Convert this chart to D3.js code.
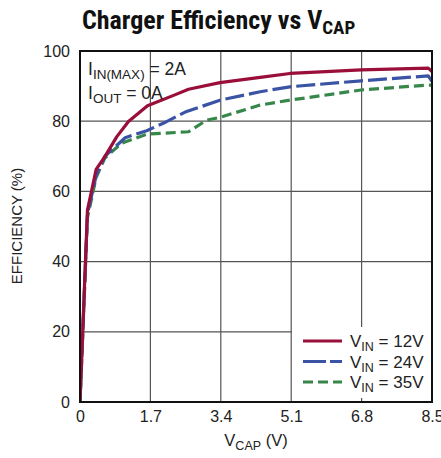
<!DOCTYPE html>
<html><head><meta charset="utf-8">
<script src="https://cdn.jsdelivr.net/npm/d3@7"></script>
<style>
body{margin:0;background:#fff;}
text{font-family:"Liberation Sans",Arial,sans-serif;}
text.title{font-family:"Roboto Condensed","Liberation Sans Narrow","Arial Narrow","Liberation Sans",sans-serif;}
</style></head><body>
<svg id="c" width="441" height="458"></svg>
<script>
const xTicks = [0, 1.7, 3.4, 5.1, 6.8, 8.5];
const xTickLabels = ["0", "1.7", "3.4", "5.1", "6.8", "8.5"];
const yTicks = [0, 20, 40, 60, 80, 100];
const seriesNames = ["12V", "24V", "35V"];
const vcap12 = [0, 0.18, 0.39, 0.6, 0.89, 1.17, 1.63, 2.29, 2.62, 3.38, 4.35, 5.07, 6.79, 8.41, 8.5];
const eff12  = [0, 54.7, 66.3, 69.9, 75.6, 79.9, 84.4, 87.5, 89.1, 91.0, 92.5, 93.6, 94.6, 95.1, 94.1];
const vcap24 = [0, 0.18, 0.39, 0.6, 1.09, 1.61, 2.01, 2.54, 3.38, 4.35, 5.07, 6.79, 8.41, 8.5];
const eff24  = [0, 53.5, 64.5, 70.0, 75.3, 77.3, 79.4, 82.6, 86.0, 88.4, 89.8, 91.5, 92.9, 91.3];
const vcap35 = [0, 0.18, 0.39, 0.6, 1.0, 1.61, 2.62, 3.06, 3.38, 4.35, 5.07, 6.79, 8.41, 8.5];
const eff35  = [0, 52.5, 64.0, 69.5, 73.7, 76.3, 77.0, 80.3, 81.1, 84.6, 86.0, 88.9, 90.3, 90.3];

const svg = d3.select("#c");
const L = 80, R = 432, T = 51, B = 402;
const x = d3.scaleLinear().domain([0, 8.5]).range([L, R]);
const y = d3.scaleLinear().domain([0, 100]).range([B, T]);

// grid
const g = svg.append("g");
g.selectAll(".vg").data(xTicks.slice(1, -1)).join("line")
  .attr("x1", d => x(d)).attr("x2", d => x(d)).attr("y1", T).attr("y2", B)
  .attr("stroke", "#555").attr("stroke-width", 1.2);
g.selectAll(".hg").data(yTicks.slice(1, -1)).join("line")
  .attr("y1", d => y(d)).attr("y2", d => y(d)).attr("x1", L).attr("x2", R)
  .attr("stroke", "#555").attr("stroke-width", 1.2);

// axes labels via d3 axes
const xAxis = d3.axisBottom(x).tickValues(xTicks).tickFormat((d, i) => xTickLabels[i]).tickSize(0).tickPadding(9);
const xa = svg.append("g").attr("transform", `translate(0,${B})`).call(xAxis);
xa.select(".domain").remove();
xa.selectAll("text").attr("font-size", 16).attr("fill", "#222")
  .style("font-family", '"Liberation Sans",Arial,sans-serif');
const yAxis = d3.axisLeft(y).tickValues(yTicks).tickFormat(d3.format("d")).tickSize(0).tickPadding(10);
const ya = svg.append("g").attr("transform", `translate(${L},0)`).call(yAxis);
ya.select(".domain").remove();
ya.selectAll("text").attr("font-size", 16).attr("fill", "#222")
  .style("font-family", '"Liberation Sans",Arial,sans-serif');

// curves
const line = d3.line().x(d => x(d[0])).y(d => y(d[1]));
const s12 = vcap12.map((v, i) => [v, eff12[i]]);
const s24 = vcap24.map((v, i) => [v, eff24[i]]);
const s35 = vcap35.map((v, i) => [v, eff35[i]]);
const colors = ["#9a0e3a", "#3a53a4", "#37874a"];
const dashes = [null, "19,5", "10,5"];
svg.append("clipPath").attr("id", "pc").append("rect")
  .attr("x", L).attr("y", T - 5).attr("width", R - L).attr("height", B - T + 5);
const cg = svg.append("g").attr("clip-path", "url(#pc)");
[s35, s24, s12].forEach((s, j) => {
  const i = 2 - j;
  cg.append("path").datum(s).attr("d", line).attr("fill", "none")
    .attr("stroke", colors[i]).attr("stroke-width", 3.2)
    .attr("stroke-dasharray", dashes[i]).attr("stroke-linejoin", "round");
});

// legend
const lg = svg.append("g");
lg.append("rect").attr("x", 292).attr("y", 327).attr("width", 139).attr("height", 71).attr("fill", "#fff");
seriesNames.forEach((n, i) => {
  const yy = 341 + i * 20.5;
  lg.append("line").attr("x1", 303).attr("x2", 342).attr("y1", yy).attr("y2", yy)
    .attr("stroke", colors[i]).attr("stroke-width", 3.2).attr("stroke-dasharray", dashes[i] ? (i === 1 ? "23,4,12,0" : "10,5") : null);
  const t = lg.append("text").attr("x", 350).attr("y", yy + 6).attr("font-size", 17).attr("fill", "#222");
  t.append("tspan").text("V");
  t.append("tspan").attr("dy", 4).attr("font-size", 12.5).text("IN");
  t.append("tspan").attr("dy", -4).text(" = " + n);
});

// border
svg.append("rect").attr("x", L).attr("y", T).attr("width", R - L).attr("height", B - T)
  .attr("fill", "none").attr("stroke", "#111").attr("stroke-width", 2);

// annotation
const a1 = svg.append("text").attr("x", 88).attr("y", 75).attr("font-size", 17.5).attr("fill", "#222");
a1.append("tspan").text("I");
a1.append("tspan").attr("dy", 4).attr("font-size", 13.5).text("IN(MAX)");
a1.append("tspan").attr("dy", -4).text(" = 2A");
const a2 = svg.append("text").attr("x", 88).attr("y", 99).attr("font-size", 17.5).attr("fill", "#222");
a2.append("tspan").text("I");
a2.append("tspan").attr("dy", 4).attr("font-size", 13.5).text("OUT");
a2.append("tspan").attr("dy", -4).text(" = 0A");

// title
const tt = svg.append("text").attr("class", "title").attr("x", 82).attr("y", 29).attr("font-size", 26).attr("font-weight", "bold").attr("fill", "#111");
tt.append("tspan").text("Charger Efficiency vs V");
tt.append("tspan").attr("dy", 5).attr("font-size", 19).text("CAP");

// axis titles
const xt = svg.append("text").attr("x", 256).attr("y", 446).attr("text-anchor", "middle").attr("font-size", 16.5).attr("fill", "#222");
xt.append("tspan").text("V");
xt.append("tspan").attr("dy", 4).attr("font-size", 12.5).text("CAP");
xt.append("tspan").attr("dy", -4).text(" (V)");
svg.append("text").attr("transform", "translate(22,226) rotate(-90)").attr("text-anchor", "middle")
  .attr("font-size", 15).attr("fill", "#222").text("EFFICIENCY (%)");
</script></body></html>
